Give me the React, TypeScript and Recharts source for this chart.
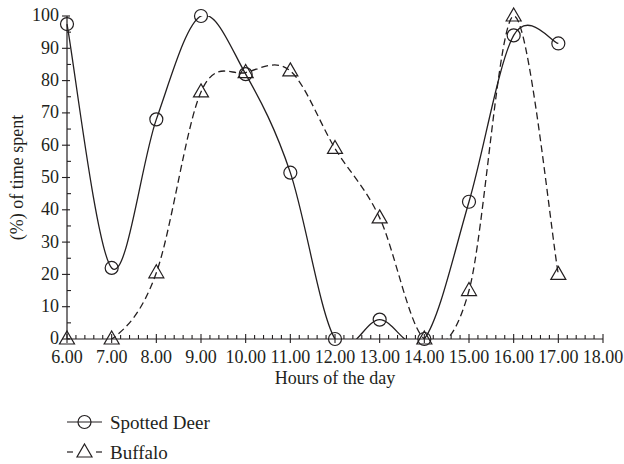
import React from 'react';
import { LineChart, Line, XAxis, YAxis, Label } from 'recharts';

const hours = [6, 7, 8, 9, 10, 11, 12, 13, 14, 15, 16, 17];
const spottedDeer = [97.5, 22, 68, 100, 82, 51.5, 0, 6, 0, 42.5, 94, 91.5];
const buffalo = [0, 0, 20.5, 76.5, 82.5, 83, 59, 37.5, 0, 15, 100, 20];

const xMajorTicks = [6, 7, 8, 9, 10, 11, 12, 13, 14, 15, 16, 17, 18];
const yMajorTicks = [0, 10, 20, 30, 40, 50, 60, 70, 80, 90, 100];

// minor ticks: 4 between x majors, 1 between y majors
const xTicks: number[] = [];
xMajorTicks.forEach((t, i) => {
  xTicks.push(t);
  if (i < xMajorTicks.length - 1) for (let k = 1; k < 5; k++) xTicks.push(+(t + k * 0.2).toFixed(1));
});
const yTicks: number[] = [];
yMajorTicks.forEach((t, i) => {
  yTicks.push(t);
  if (i < yMajorTicks.length - 1) yTicks.push(t + 5);
});

const data = hours.map((h, i) => ({ hour: h, deer: spottedDeer[i], buffalo: buffalo[i] }));

const INK = '#231f20';
const FONT = '"Liberation Serif", "DejaVu Serif", serif';
const FS = 18;

// uniform catmull-rom spline, like the original plotting tool's smoothing
function catmullRom(context: any) {
  let pts: number[][] = [];
  return {
    areaStart() {},
    areaEnd() {},
    lineStart() {
      pts = [];
    },
    point(x: number, y: number) {
      pts.push([+x, +y]);
    },
    lineEnd() {
      const n = pts.length;
      if (!n) return;
      context.moveTo(pts[0][0], pts[0][1]);
      for (let i = 0; i < n - 1; i++) {
        const p0 = pts[Math.max(i - 1, 0)];
        const p1 = pts[i];
        const p2 = pts[i + 1];
        const p3 = pts[Math.min(i + 2, n - 1)];
        context.bezierCurveTo(
          p1[0] + (p2[0] - p0[0]) / 6,
          p1[1] + (p2[1] - p0[1]) / 6,
          p2[0] - (p3[0] - p1[0]) / 6,
          p2[1] - (p3[1] - p1[1]) / 6,
          p2[0],
          p2[1]
        );
      }
    },
  };
}

const isMajor = (v: number, step: number) => Math.abs(v / step - Math.round(v / step)) < 1e-6;

const XTick = (props: any) => {
  const { x, y, payload } = props;
  const v = payload.value;
  const major = isMajor(v, 1);
  return (
    <g>
      <line x1={x} x2={x} y1={major ? y - 5 : y - 4} y2={major ? y + 4 : y} stroke={INK} strokeWidth={1.1} />
      {major && (
        <text x={x} y={y + 24} textAnchor="middle" fontFamily={FONT} fontSize={FS} fill={INK}>
          {v.toFixed(2)}
        </text>
      )}
    </g>
  );
};

const YTick = (props: any) => {
  const { x, y, payload } = props;
  const v = payload.value;
  const major = isMajor(v, 10);
  return (
    <g>
      <line x1={major ? x - 5 : x} x2={major ? x + 3 : x + 4} y1={y} y2={y} stroke={INK} strokeWidth={1.1} />
      {major && (
        <text x={x - 8} y={y} dy="0.3em" textAnchor="end" fontFamily={FONT} fontSize={FS} fill={INK}>
          {v}
        </text>
      )}
    </g>
  );
};

const CircleDot = (p: any) => (
  <circle key={`c-${p.index}`} cx={p.cx} cy={p.cy} r={6.5} fill="none" stroke={INK} strokeWidth={1.2} />
);

const TriDot = (p: any) => (
  <path
    key={`t-${p.index}`}
    d={`M${p.cx},${p.cy - 8} L${p.cx + 7.5},${p.cy + 5} L${p.cx - 7.5},${p.cy + 5} Z`}
    fill="none"
    stroke={INK}
    strokeWidth={1.2}
  />
);

export default function App() {
  return (
    <div style={{ position: 'absolute', left: 0, top: 0, width: 624, height: 464, background: '#fff' }}>
      <LineChart width={624} height={464} data={data} margin={{ top: 16, right: 21, bottom: 65, left: 0 }}>
        <XAxis
          dataKey="hour"
          type="number"
          domain={[6, 18]}
          ticks={xTicks}
          interval={0}
          tick={<XTick />}
          tickLine={false}
          tickSize={0}
          tickMargin={0}
          axisLine={{ stroke: INK, strokeWidth: 1.2 }}
          height={60}
        >
          <Label
            content={(p: any) => (
              <text
                x={p.viewBox.x + p.viewBox.width / 2}
                y={p.viewBox.y + 45}
                textAnchor="middle"
                fontFamily={FONT}
                fontSize={18}
                fill={INK}
              >
                Hours of the day
              </text>
            )}
          />
        </XAxis>
        <YAxis
          yAxisId="curve"
          type="number"
          domain={[0, 100]}
          allowDataOverflow
          ticks={yTicks}
          interval={0}
          tick={<YTick />}
          tickLine={false}
          tickSize={0}
          tickMargin={0}
          axisLine={{ stroke: INK, strokeWidth: 1.2 }}
          width={67}
        >
          <Label
            content={(p: any) => {
              const cx = 17;
              const cy = p.viewBox.y + p.viewBox.height / 2;
              return (
                <text
                  x={cx}
                  y={cy}
                  transform={`rotate(-90 ${cx} ${cy})`}
                  textAnchor="middle"
                  dominantBaseline="central"
                  fontFamily={FONT}
                  fontSize={18}
                  fill={INK}
                >
                  (%) of time spent
                </text>
              );
            }}
          />
        </YAxis>
        <YAxis yAxisId="marks" type="number" domain={[0, 100]} hide />
        <Line
          yAxisId="curve"
          dataKey="deer"
          type={catmullRom as any}
          stroke={INK}
          strokeWidth={1.3}
          dot={false}
          activeDot={false}
          isAnimationActive={false}
        />
        <Line
          yAxisId="curve"
          dataKey="buffalo"
          type={catmullRom as any}
          stroke={INK}
          strokeWidth={1.3}
          strokeDasharray="7 4"
          dot={false}
          activeDot={false}
          isAnimationActive={false}
        />
        <Line
          yAxisId="marks"
          dataKey="deer"
          stroke="none"
          dot={CircleDot}
          activeDot={false}
          isAnimationActive={false}
        />
        <Line
          yAxisId="marks"
          dataKey="buffalo"
          stroke="none"
          dot={TriDot}
          activeDot={false}
          isAnimationActive={false}
        />
      </LineChart>
      <svg width={260} height={64} style={{ position: 'absolute', left: 60, top: 398 }}>
        <line x1={7} x2={42} y1={24} y2={24} stroke={INK} strokeWidth={1.2} />
        <circle cx={24.5} cy={24} r={6.5} fill="none" stroke={INK} strokeWidth={1.2} />
        <text x={50} y={24} dy="0.35em" fontFamily={FONT} fontSize={19} fill={INK}>
          Spotted Deer
        </text>
        <line x1={7} x2={13} y1={54} y2={54} stroke={INK} strokeWidth={1.2} />
        <line x1={36} x2={42} y1={54} y2={54} stroke={INK} strokeWidth={1.2} />
        <path d="M24.5,46 L32,59 L17,59 Z" fill="none" stroke={INK} strokeWidth={1.2} />
        <text x={50} y={54} dy="0.35em" fontFamily={FONT} fontSize={19} fill={INK}>
          Buffalo
        </text>
      </svg>
    </div>
  );
}
